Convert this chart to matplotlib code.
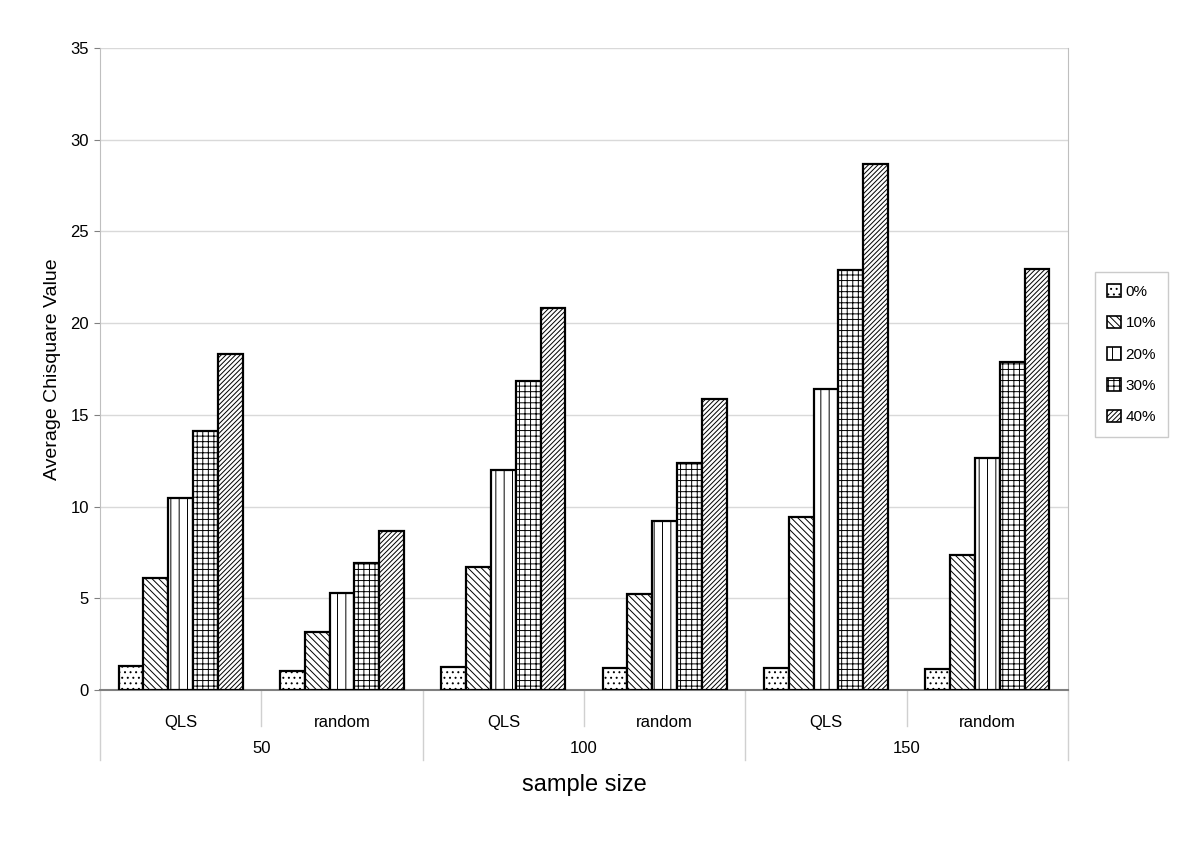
import matplotlib.pyplot as plt
import matplotlib.transforms as mtransforms
import numpy as np

plt.rcParams['font.family'] = ['Liberation Sans', 'DejaVu Sans']
plt.rcParams['hatch.linewidth'] = 0.7

# data
sample_sizes = ['50', '100', '150']
methods = ['QLS', 'random']
series = ['0%', '10%', '20%', '30%', '40%']
values = {
    '0%':  [1.31, 1.05, 1.25, 1.22, 1.19, 1.17],
    '10%': [6.10, 3.18, 6.70, 5.25, 9.43, 7.36],
    '20%': [10.45, 5.29, 12.00, 9.20, 16.40, 12.64],
    '30%': [14.10, 6.95, 16.85, 12.40, 22.90, 17.90],
    '40%': [18.30, 8.69, 20.85, 15.85, 28.70, 22.94],
}
hatches = ['...', '\\\\\\\\\\', '||', '+++', '///////']

fig = plt.figure(figsize=(12, 8.46), dpi=100)
ax = fig.add_axes([100 / 1200, 156 / 846, 968 / 1200, 642 / 846])

n_cat = len(sample_sizes) * len(methods)
x = np.arange(n_cat)
width = 1 / (len(series) + 1.5)

for i, s in enumerate(series):
    offs = (i - (len(series) - 1) / 2) * width
    ax.bar(x + offs, values[s], width, color='white', edgecolor='black',
           hatch=hatches[i], linewidth=1.6, label=s, zorder=3)

ax.set_xlim(-0.5, n_cat - 0.5)
ax.set_ylim(0, 35)
ax.set_yticks(range(0, 36, 5))
ax.tick_params(axis='y', labelsize=12, length=4, color='#808080', pad=4)
ax.grid(axis='y', color='#d9d9d9', linewidth=1, zorder=0)

ax.spines['top'].set_visible(False)
ax.spines['left'].set_color('#bfbfbf')
ax.spines['right'].set_color('#bfbfbf')
ax.spines['bottom'].set_color('#7f7f7f')
ax.spines['bottom'].set_linewidth(1.5)

# two-level category axis
ax.set_xticks(x)
ax.set_xticklabels(methods * len(sample_sizes), fontsize=12)
ax.tick_params(axis='x', length=0, pad=18)

trans = mtransforms.blended_transform_factory(ax.transData, ax.transAxes)
px = 1 / 642
for k in range(n_cat + 1):
    xe = k - 0.5
    depth = 70 if k % 2 == 0 else 36
    ax.plot([xe, xe], [0, -depth * px], transform=trans, color='#d0d0d0',
            linewidth=1, clip_on=False)
for j, s in enumerate(sample_sizes):
    ax.text(2 * j + 0.5, -58 * px, s, transform=trans, ha='center',
            va='center', fontsize=12)

ax.set_xlabel('sample size', fontsize=17, labelpad=32)
ax.set_ylabel('Average Chisquare Value', fontsize=14, labelpad=7)

leg = ax.legend(loc='center left', bbox_to_anchor=(1.02, 0.523), frameon=True,
                fancybox=False, edgecolor='#bfbfbf', fontsize=11,
                handlelength=0.9, handleheight=0.9, handletextpad=0.3,
                labelspacing=1.1, borderpad=0.8)
for h in leg.legend_handles:
    h.set_linewidth(1.2)

fig.savefig('out.png', dpi=100)
